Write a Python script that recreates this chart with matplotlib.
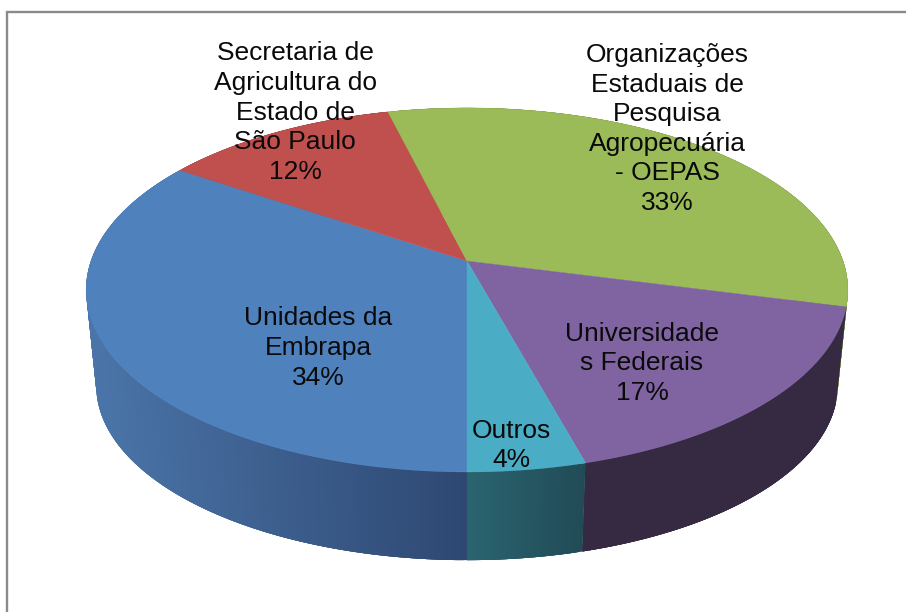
import numpy as np
import matplotlib
matplotlib.use("Agg")
import matplotlib.pyplot as plt
from matplotlib.colors import to_rgb

# Data
categories = ["Unidades da\nEmbrapa", "Secretaria de\nAgricultura do\nEstado de\nSão Paulo",
              "Organizações\nEstaduais de\nPesquisa\nAgropecuária\n- OEPAS", "Universidade\ns Federais", "Outros"]
values = [34.4, 11.7, 32.9, 16.7, 4.3]

# Styles
top_colors = ["#4f81bd", "#c0504d", "#9bbb59", "#8064a2", "#4bacc6"]
side_left = ["#4b75a9", "#8a3a38", "#6f8740", "#352a42", "#2a6570"]
side_right = ["#2e4872", "#8a3a38", "#6f8740", "#352a42", "#214b57"]
label_xy = [(318, 348), (295, 112.5), (667, 129), (642, 363.5), (511, 445.5)]

# Perspective of the pie disc, in pixel coordinates of the figure
K = 0.159
TOP = dict(xc=467, yc=261, A=376, B=177.4)
BOT = dict(xc=467, yc=358, A=366, B=170)


def project(t, p):
    X, Y = -np.sin(t), np.cos(t)
    w = 1 - K * Y
    return p["xc"] + p["A"] * X / w, p["yc"] + p["B"] * Y / w


fig = plt.figure(figsize=(9.06, 6.12), dpi=100)
ax = fig.add_axes([0, 0, 1, 1])
ax.set_xlim(0, 906)
ax.set_ylim(612, 0)
ax.axis("off")

# chart frame
ax.plot([7, 7, 906], [612, 12, 12], color="#8a8a8a", lw=1.7, solid_joinstyle="miter", zorder=1)

edges = 2 * np.pi * np.concatenate([[0], np.cumsum(values)]) / np.sum(values)

# sides (extrusion): overlapping strips so no seams show; colour follows x
for i in range(len(values)):
    n = max(8, int((edges[i + 1] - edges[i]) * 150))
    ts = np.linspace(edges[i], edges[i + 1], n + 1)
    xt, yt = project(ts, TOP)
    xb, yb = project(ts, BOT)
    c_l, c_r = np.array(to_rgb(side_left[i])), np.array(to_rgb(side_right[i]))
    lo, hi = xt.min(), xt.max()
    for j in range(n):
        e = min(n, j + 4)
        f = (xt[j] - lo) / (hi - lo)
        col = c_l * (1 - f) + c_r * f
        ax.fill([xt[j], *xt[j + 1:e + 1], *xb[j + 1:e + 1][::-1], xb[j]],
                [yt[j], *yt[j + 1:e + 1], *yb[j + 1:e + 1][::-1], yb[j]],
                color=col, lw=0, zorder=2)

# top wedges
for i in range(len(values)):
    ts = np.linspace(edges[i], edges[i + 1], 200)
    x, y = project(ts, TOP)
    ax.fill(np.r_[TOP["xc"], x], np.r_[TOP["yc"], y], color=top_colors[i], lw=0.3, zorder=3)

# labels
for cat, v, (lx, ly) in zip(categories, values, label_xy):
    ax.text(lx, ly, f"{cat}\n{v:.0f}%", ha="center", va="center", family="Liberation Sans",
            fontsize=19, color="#0a0a0a", linespacing=1.29, zorder=4)

fig.savefig("out.png", dpi=100)
